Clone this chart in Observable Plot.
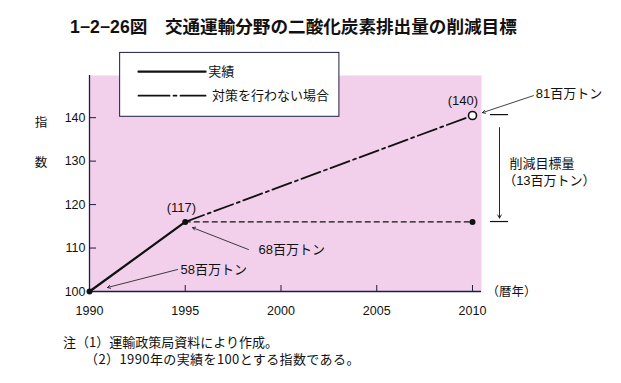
<!DOCTYPE html>
<html>
<head>
<meta charset="utf-8">
<script src="https://cdn.jsdelivr.net/npm/d3@7"></script>
<script src="https://cdn.jsdelivr.net/npm/@observablehq/plot@0.6"></script>
<style>
  html, body { margin: 0; padding: 0; background: #fff; width: 621px; height: 383px; overflow: hidden; }
  body { position: relative; font-family: "Liberation Sans", "Noto Sans CJK JP", sans-serif; color: #111; }
  #title { position: absolute; left: 70px; top: 13px; font-size: 17.6px; font-weight: bold; white-space: nowrap; }
  #chart { position: absolute; left: 0; top: 45px; }
  .note { position: absolute; font-family: "Noto Sans CJK JP", sans-serif; font-size: 13px; white-space: nowrap; }
</style>
</head>
<body>
<div id="title"></div>
<div id="chart"></div>
<div class="note" id="note1" style="left:63px; top:332px;"></div>
<div class="note" id="note2" style="left:85px; top:349px; letter-spacing:0.4px;"></div>
<script>
// ---- data ----
const titleText = "1−2−26図　交通運輸分野の二酸化炭素排出量の削減目標";
const notes = ["注（1）運輸政策局資料により作成。", "（2）1990年の実績を100とする指数である。"];
const seriesNames = ["実績", "対策を行わない場合"];
const actualYears = [1990, 1995];
const actualValues = [100, 116];
const noMeasureYears = [1995, 2010];
const noMeasureValues = [116, 140.5];
const targetYears = [1995, 2010];
const targetValues = [116, 116];
const xTicks = [1990, 1995, 2000, 2005, 2010];
const yTicks = [100, 110, 120, 130, 140];
const yLabelChars = ["指", "数"];
const xUnit = "（暦年）";
const pointLabels = ["(117)", "(140)"];
const emissionLabels = ["58百万トン", "68百万トン", "81百万トン"];
const reductionLabels = ["削減目標量", "（13百万トン）"];

document.getElementById("title").textContent = titleText;
document.getElementById("note1").textContent = notes[0];
document.getElementById("note2").textContent = notes[1];

const actual = actualYears.map((x, i) => ({x, y: actualValues[i]}));
const noMeasure = noMeasureYears.map((x, i) => ({x, y: noMeasureValues[i]}));
const target = targetYears.map((x, i) => ({x, y: targetValues[i]}));

const ink = "#111";
const navy = "#1c1c44";
const pink = "#f2d0ec";
const fs = 13;

const chart = Plot.plot({
  width: 621,
  height: 280,
  marginLeft: 89,
  marginRight: 140,
  marginTop: 30,
  marginBottom: 34,
  style: {background: "transparent", fontFamily: "'Liberation Sans', 'Noto Sans CJK JP', sans-serif", fontSize: "12.5px", color: ink},
  x: {domain: [1990, 2010.47]},
  y: {domain: [100, 149.7]},
  marks: [
    Plot.frame({fill: pink, stroke: "none"}),
    // legend box
    Plot.rect([0], {x1: 1991.6, x2: 2003.05, y1: 140.2, y2: 154.9, fill: "white", stroke: navy, strokeWidth: 1}),
    Plot.line([{x: 1992.56, y: 150.57}, {x: 1996.06, y: 150.57}], {x: "x", y: "y", stroke: ink, strokeWidth: 2.2}),
    Plot.line([{x: 1992.56, y: 145.06}, {x: 1996.06, y: 145.06}], {x: "x", y: "y", stroke: ink, strokeWidth: 1.8, strokeDasharray: "31,4,3,4"}),
    Plot.text([seriesNames[0]], {x: 1996.2, y: 150.57, text: d => d, textAnchor: "start", fontSize: fs, fill: ink}),
    Plot.text([seriesNames[1]], {x: 1996.4, y: 145.06, text: d => d, textAnchor: "start", fontSize: fs, fill: ink}),
    // axes
    Plot.ruleX([1990], {stroke: navy, strokeWidth: 1.3}),
    Plot.ruleY([100], {stroke: navy, strokeWidth: 1.3}),
    Plot.tickY(yTicks.slice(1), {y: d => d, insetRight: 385, stroke: navy, strokeWidth: 1}),
    Plot.tickX(xTicks.slice(1), {x: d => d, insetTop: 210, stroke: navy, strokeWidth: 1}),
    Plot.axisY({ticks: yTicks, tickSize: 0, tickPadding: 4, label: null, fontSize: 12.5}),
    Plot.axisX({ticks: xTicks, tickSize: 0, tickPadding: 15, label: null, tickFormat: d => String(d), fontSize: 12.5}),
    Plot.text([xUnit], {x: 2010.73, y: 100, text: d => d, textAnchor: "start", fontSize: 12.5, fill: ink}),
    // series
    Plot.line(target, {x: "x", y: "y", stroke: ink, strokeWidth: 1.2, strokeDasharray: "5,4"}),
    Plot.line(noMeasure, {x: "x", y: "y", stroke: ink, strokeWidth: 1.8, strokeDasharray: "20,4,3,4"}),
    Plot.line(actual, {x: "x", y: "y", stroke: ink, strokeWidth: 2.2}),
    Plot.dot(actual, {x: "x", y: "y", r: 3, fill: ink}),
    Plot.dot([target[1]], {x: "x", y: "y", r: 3, fill: ink}),
    Plot.dot([noMeasure[1]], {x: "x", y: "y", r: 4, fill: "white", stroke: ink, strokeWidth: 1.6}),
    // point labels
    Plot.text([pointLabels[0]], {x: 1994.8, y: 119.3, text: d => d, fontSize: fs, fill: ink}),
    Plot.text([pointLabels[1]], {x: 2009.5, y: 143.9, text: d => d, fontSize: fs, fill: ink}),
    // emission annotations with arrows
    Plot.arrow([0], {x1: 1994.6, y1: 105.06, x2: 1990.94, y2: 100.92, stroke: ink, strokeWidth: 0.8, headLength: 6}),
    Plot.text([emissionLabels[0]], {x: 1994.75, y: 105.1, text: d => d, textAnchor: "start", fontSize: fs, fill: ink}),
    Plot.arrow([0], {x1: 1998.3, y1: 109.66, x2: 1995.38, y2: 114.7, stroke: ink, strokeWidth: 0.8, headLength: 6}),
    Plot.text([emissionLabels[1]], {x: 1998.83, y: 109.66, text: d => d, textAnchor: "start", fontSize: fs, fill: ink}),
    Plot.arrow([0], {x1: 2013.18, y1: 145.06, x2: 2010.52, y2: 141.15, stroke: ink, strokeWidth: 0.8, headLength: 6}),
    Plot.text([emissionLabels[2]], {x: 2013.3, y: 145.4, text: d => d, textAnchor: "start", fontSize: fs, fill: ink}),
    // reduction bracket
    Plot.ruleY([{y: 140.7}, {y: 116.1}], {y: "y", x1: 2010.94, x2: 2011.88, stroke: ink, strokeWidth: 1.2}),
    Plot.arrow([0], {x1: 2011.41, y1: 137.7, x2: 2011.41, y2: 116.9, stroke: ink, strokeWidth: 0.9, headLength: 6}),
    Plot.text([reductionLabels[0]], {x: 2011.93, y: 129.4, text: d => d, textAnchor: "start", fontSize: fs, fill: ink}),
    Plot.text([reductionLabels[1]], {x: 2011.6, y: 125.5, text: d => d, textAnchor: "start", fontSize: fs, fill: ink}),
  ]
});
document.getElementById("chart").appendChild(chart);

// y-axis title characters (vertical, outside the frame)
const svg = d3.select(chart);
const yScale = chart.scale("y");
svg.append("g").selectAll("text").data(yLabelChars).join("text")
  .attr("x", 41)
  .attr("y", (d, i) => yScale.apply(138.5 - i * 9.2))
  .attr("text-anchor", "middle")
  .attr("dominant-baseline", "middle")
  .attr("font-size", 12.5)
  .attr("font-family", "'Noto Sans CJK JP', sans-serif")
  .attr("fill", ink)
  .text(d => d);
</script>
</body>
</html>
